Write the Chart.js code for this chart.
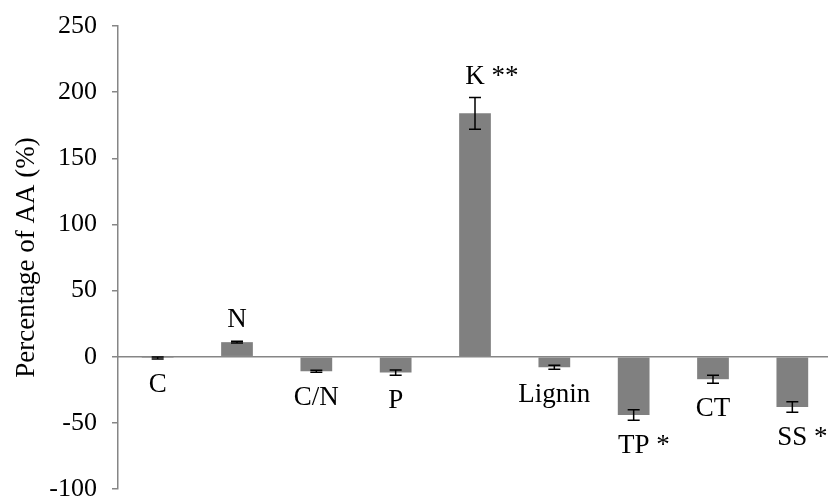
<!DOCTYPE html>
<html>
<head>
<meta charset="utf-8">
<script src="https://cdn.jsdelivr.net/npm/chart.js@4"></script>
<style>
  body { margin: 0; background: #fff; overflow: hidden; }
  #wrap { width: 832px; height: 500px; }
</style>
</head>
<body>
<div id="wrap"><canvas id="chart"></canvas></div>
<script>
const categories = ["C", "N", "C/N", "P", "K", "Lignin", "TP", "CT", "SS"]
const values = [-1, 11, -11, -12, 184, -8, -44, -17, -38]
const errors = [0.7, 0.6, 0.8, 2, 12, 1.5, 4, 3, 4]
const stars = ["", "", "", "", "**", "", "*", "", "*"]
const yTicks = [-100, -50, 0, 50, 100, 150, 200, 250]

const serif = "'Liberation Serif', 'Times New Roman', serif"
const axisGrey = "#868686"

// zero line, error bars and the bar labels
const extras = {
    id: "extras",
    afterDatasetsDraw(chart) {
        const ctx = chart.ctx
        const y = chart.scales.y
        const meta = chart.getDatasetMeta(0)
        const area = chart.chartArea
        ctx.save()
        ctx.strokeStyle = axisGrey
        ctx.lineWidth = 1.5
        ctx.beginPath()
        ctx.moveTo(area.left, y.getPixelForValue(0))
        ctx.lineTo(area.right, y.getPixelForValue(0))
        ctx.stroke()

        ctx.strokeStyle = "#000"
        ctx.lineWidth = 1.5
        ctx.font = "27px " + serif
        ctx.fillStyle = "#000"
        ctx.textBaseline = "middle"
        meta.data.forEach((bar, i) => {
            const v = values[i], e = errors[i]
            const x = bar.x
            const yHi = y.getPixelForValue(v + e)
            const yLo = y.getPixelForValue(v - e)
            ctx.beginPath()
            ctx.moveTo(x, yHi); ctx.lineTo(x, yLo)
            ctx.moveTo(x - 6, yHi); ctx.lineTo(x + 6, yHi)
            ctx.moveTo(x - 6, yLo); ctx.lineTo(x + 6, yLo)
            ctx.stroke()

            let ty
            if (v >= 0) ty = y.getPixelForValue(v + e) - 21
            else ty = y.getPixelForValue(v - e) + 26
            const name = categories[i]
            const w = ctx.measureText(name).width
            ctx.textAlign = "center"
            ctx.fillText(name, x, ty)
            if (stars[i]) {
                ctx.textAlign = "left"
                ctx.fillText(" " + stars[i], x + w / 2, ty)
            }
        })
        ctx.restore()
    }
}

new Chart(document.getElementById("chart"), {
    type: "bar",
    plugins: [extras],
    data: {
        labels: categories,
        datasets: [{
            data: values,
            backgroundColor: "#808080",
            borderWidth: 0,
            categoryPercentage: 1,
            barPercentage: 0.4,
        }],
    },
    options: {
        responsive: true,
        maintainAspectRatio: false,
        animation: false,
        layout: { padding: { top: 26, bottom: 11, left: 0, right: 0 } },
        plugins: { legend: { display: false }, tooltip: { enabled: false } },
        scales: {
            x: { display: false },
            y: {
                min: -100,
                max: 250,
                afterBuildTicks: (scale) => { scale.ticks = yTicks.map(v => ({ value: v })) },
                afterFit: (scale) => {
                    scale.width = 118
                    scale.paddingTop = 0
                    scale.paddingBottom = 0
                },
                ticks: {
                    color: "#000",
                    padding: 15,
                    font: { family: serif, size: 26 },
                },
                grid: { drawOnChartArea: false, drawTicks: true, tickLength: 6, color: axisGrey, lineWidth: 1.5 },
                border: { color: axisGrey, width: 1.5 },
                title: {
                    display: true,
                    text: "Percentage of AA (%)",
                    color: "#000",
                    font: { family: serif, size: 27 },
                    padding: { top: 11, bottom: 0 },
                },
            },
        },
    },
})
</script>
</body>
</html>
